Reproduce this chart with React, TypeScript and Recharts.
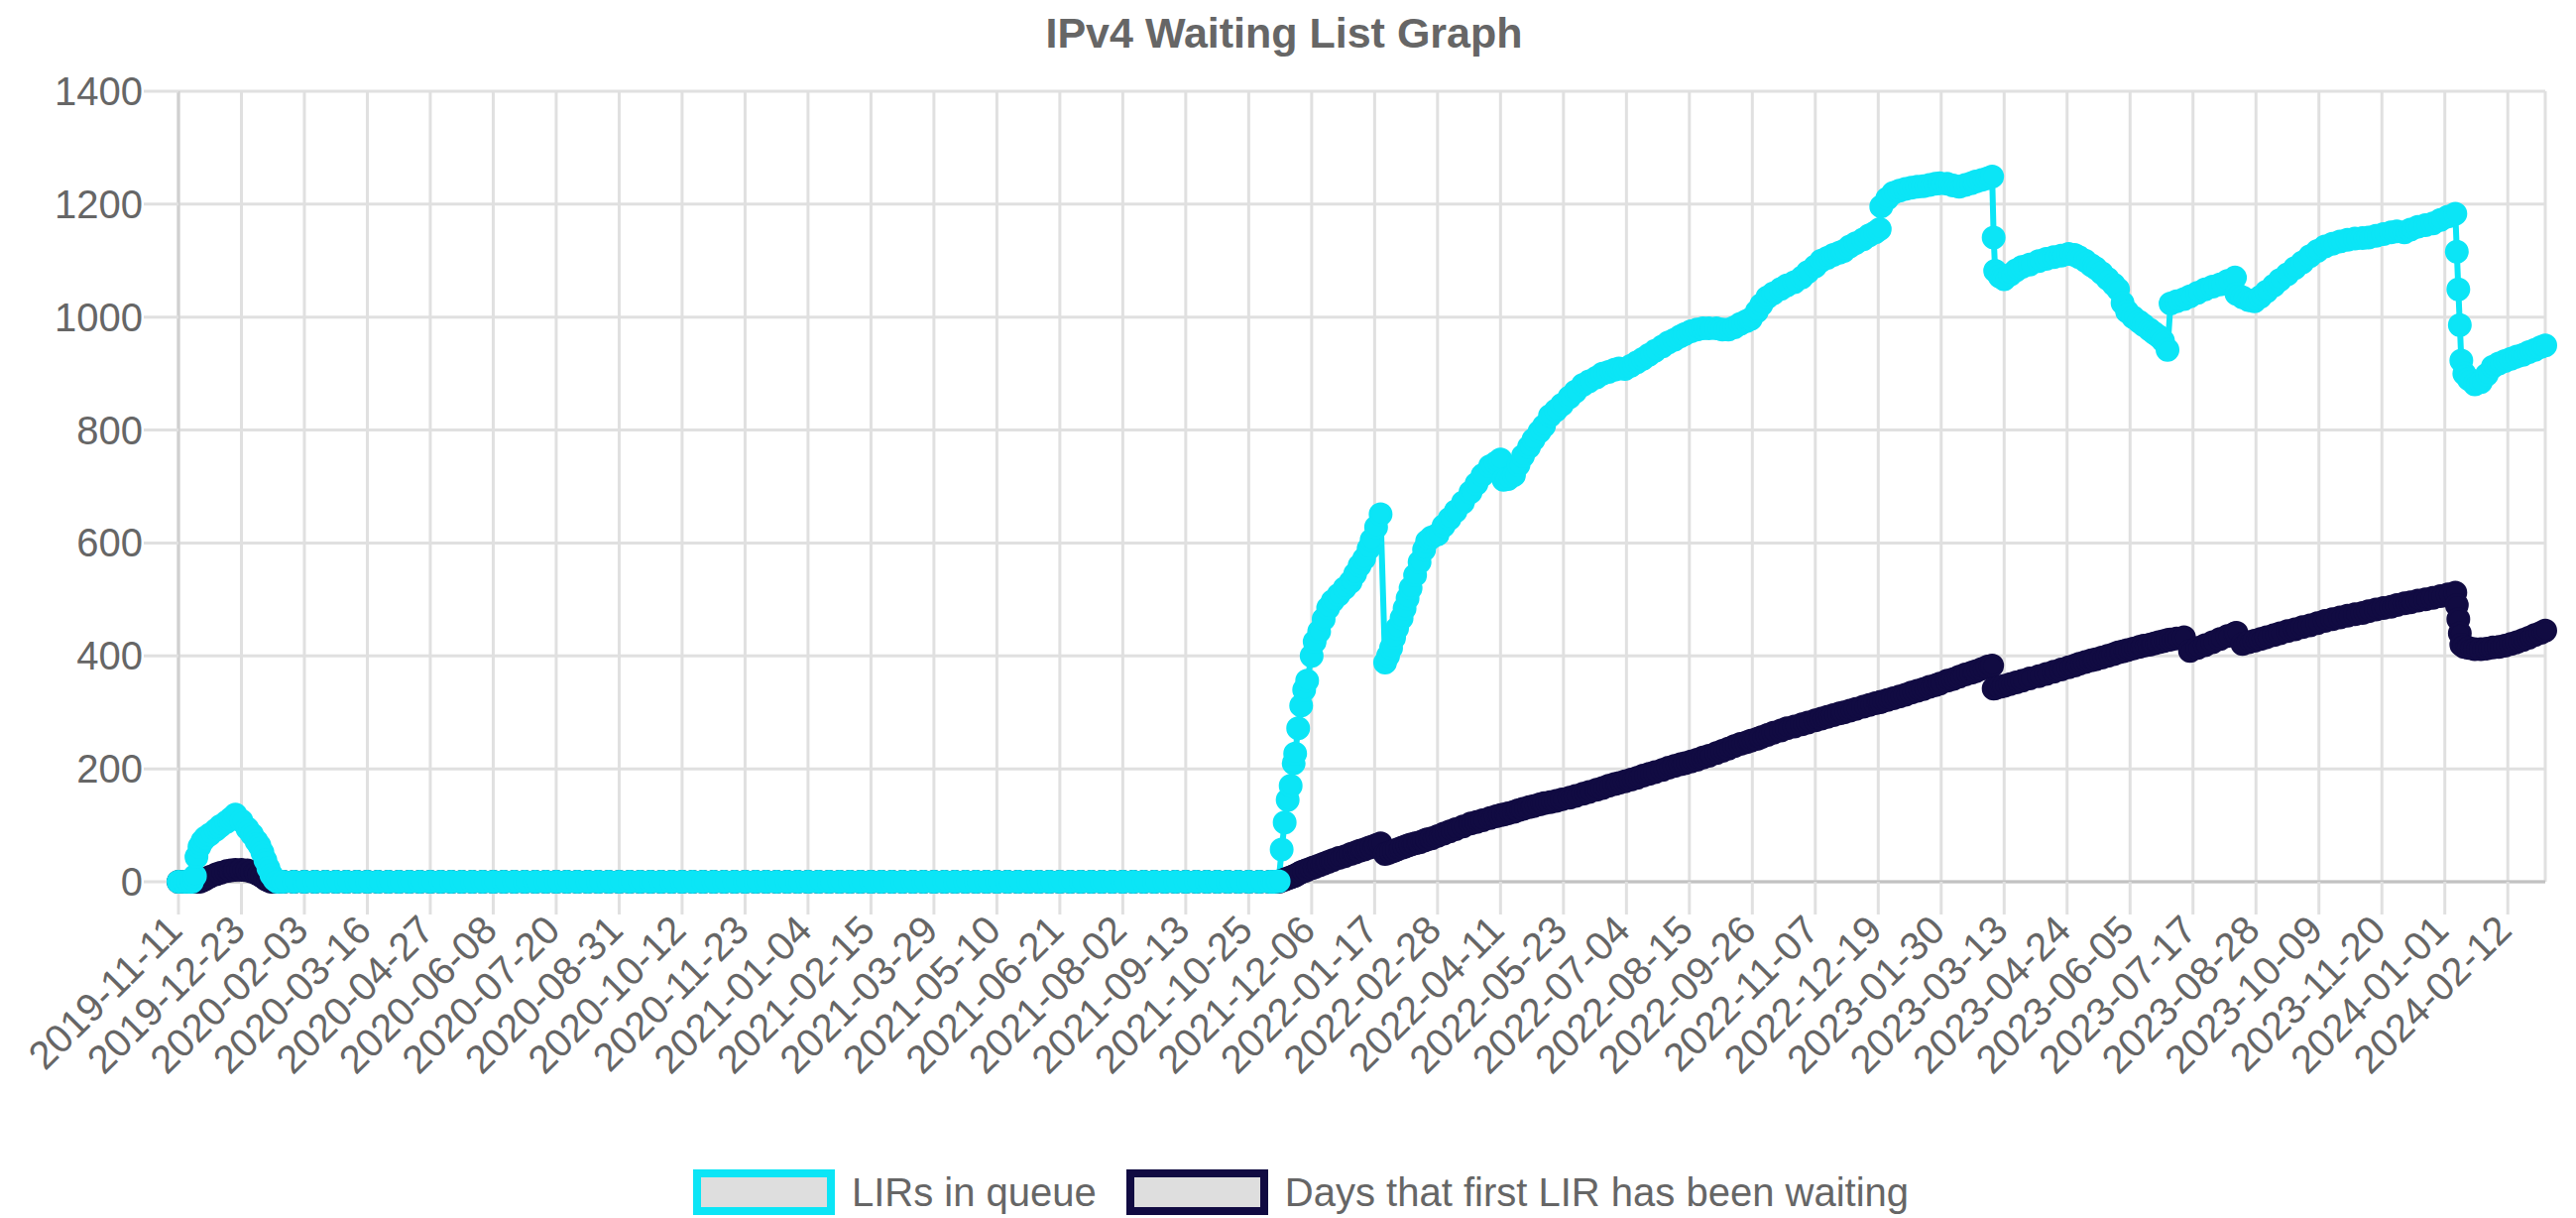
import React from 'react';
import { LineChart, Line, XAxis, YAxis, CartesianGrid } from 'recharts';

// x values are days since 2019-11-11 (first date on the axis)
const START = '2019-11-11';

const tickLabels = [
  '2019-11-11', '2019-12-23', '2020-02-03', '2020-03-16', '2020-04-27', '2020-06-08', '2020-07-20',
  '2020-08-31', '2020-10-12', '2020-11-23', '2021-01-04', '2021-02-15', '2021-03-29', '2021-05-10',
  '2021-06-21', '2021-08-02', '2021-09-13', '2021-10-25', '2021-12-06', '2022-01-17', '2022-02-28',
  '2022-04-11', '2022-05-23', '2022-07-04', '2022-08-15', '2022-09-26', '2022-11-07', '2022-12-19',
  '2023-01-30', '2023-03-13', '2023-04-24', '2023-06-05', '2023-07-17', '2023-08-28', '2023-10-09',
  '2023-11-20', '2024-01-01', '2024-02-12',
];
const yTicks = [0, 200, 400, 600, 800, 1000, 1200, 1400];
const seriesNames = ['LIRs in queue', 'Days that first LIR has been waiting'];

// first queue, end of 2019
const bumpDays = [0, 4, 7, 9, 11, 12, 14, 16, 18, 21, 25, 28, 32, 35, 38, 42, 46, 49, 52, 54, 56, 58, 60, 62, 64, 66, 70];
const bumpLirs = [0, 0, 0, 0, 10, 44, 62, 72, 78, 84, 92, 99, 106, 112, 119, 108, 94, 84, 72, 64, 52, 38, 24, 12, 4, 0, 0];
const bumpWait = [0, 0, 0, 0, 0, 0, 0, 2, 5, 9, 13, 16, 19, 20, 21, 21, 20, 18, 15, 12, 9, 5, 2, 0, 0, 0, 0];

// empty queue 2020 - 2021
const idleDays = [
  77, 84, 91, 98, 105, 112, 119, 126, 133, 140,
  147, 154, 161, 168, 175, 182, 189, 196, 203, 210,
  217, 224, 231, 238, 245, 252, 259, 266, 273, 280,
  287, 294, 301, 308, 315, 322, 329, 336, 343, 350,
  357, 364, 371, 378, 385, 392, 399, 406, 413, 420,
  427, 434, 441, 448, 455, 462, 469, 476, 483, 490,
  497, 504, 511, 518, 525, 532, 539, 546, 553, 560,
  567, 574, 581, 588, 595, 602, 609, 616, 623, 630,
  637, 644, 651, 658, 665, 672, 679, 686, 693, 700,
  707, 714, 721, 728, 731,
];
const idleLirs = [
  0, 0, 0, 0, 0, 0, 0, 0, 0, 0,
  0, 0, 0, 0, 0, 0, 0, 0, 0, 0,
  0, 0, 0, 0, 0, 0, 0, 0, 0, 0,
  0, 0, 0, 0, 0, 0, 0, 0, 0, 0,
  0, 0, 0, 0, 0, 0, 0, 0, 0, 0,
  0, 0, 0, 0, 0, 0, 0, 0, 0, 0,
  0, 0, 0, 0, 0, 0, 0, 0, 0, 0,
  0, 0, 0, 0, 0, 0, 0, 0, 0, 0,
  0, 0, 0, 0, 0, 0, 0, 0, 0, 0,
  0, 0, 0, 0, 0,
];
const idleWait = [
  0, 0, 0, 0, 0, 0, 0, 0, 0, 0,
  0, 0, 0, 0, 0, 0, 0, 0, 0, 0,
  0, 0, 0, 0, 0, 0, 0, 0, 0, 0,
  0, 0, 0, 0, 0, 0, 0, 0, 0, 0,
  0, 0, 0, 0, 0, 0, 0, 0, 0, 0,
  0, 0, 0, 0, 0, 0, 0, 0, 0, 0,
  0, 0, 0, 0, 0, 0, 0, 0, 0, 0,
  0, 0, 0, 0, 0, 0, 0, 0, 0, 0,
  0, 0, 0, 0, 0, 0, 0, 0, 0, 0,
  0, 0, 0, 0, 0,
];

// queue from Nov 2021 on
const mainDays = [
  734, 736, 738, 740, 742, 744, 745, 747, 749, 751,
  753, 756, 758, 761, 764, 767, 770, 774, 778, 782,
  785, 788, 791, 794, 796, 799, 802, 805, 807, 809,
  811, 813, 816, 818, 820, 822, 825, 828, 831, 833,
  836, 840, 844, 848, 852, 857, 862, 866, 870, 875,
  879, 882, 884, 887, 891, 894, 897, 901, 904, 908,
  911, 915, 919, 923, 928, 932, 937, 941, 946, 950,
  954, 958, 961, 965, 969, 973, 977, 981, 985, 990,
  994, 998, 1002, 1005, 1009, 1013, 1017, 1021, 1026, 1030,
  1034, 1038, 1042, 1046, 1049, 1053, 1056, 1060, 1064, 1069,
  1073, 1078, 1083, 1087, 1092, 1096, 1100, 1104, 1108, 1111,
  1115, 1119, 1124, 1128, 1132, 1135, 1136, 1140, 1144, 1148,
  1152, 1156, 1160, 1164, 1168, 1172, 1175, 1180, 1184, 1188,
  1192, 1196, 1199, 1203, 1207, 1210, 1211, 1212, 1215, 1218,
  1222, 1226, 1230, 1235, 1241, 1246, 1251, 1256, 1261, 1265,
  1268, 1272, 1276, 1279, 1283, 1287, 1291, 1294, 1297, 1300,
  1304, 1308, 1311, 1315, 1318, 1321, 1324, 1327, 1329, 1333,
  1338, 1342, 1347, 1352, 1357, 1362, 1367, 1372, 1373, 1377,
  1381, 1385, 1389, 1393, 1398, 1402, 1407, 1412, 1417, 1422,
  1427, 1432, 1437, 1442, 1447, 1452, 1457, 1461, 1466, 1471,
  1476, 1480, 1485, 1489, 1494, 1499, 1504, 1509, 1514, 1519,
  1520, 1521, 1522, 1523, 1525, 1528, 1532, 1536, 1540, 1544,
  1548, 1552, 1556, 1560, 1564, 1568, 1572, 1576, 1579,
];
const mainLirs = [
  1, 57, 105, 145, 170, 210, 227, 272, 312, 340,
  356, 400, 425, 443, 465, 485, 497, 508, 520, 531,
  545, 560, 572, 590, 605, 628, 651, 388, 400, 414,
  432, 449, 467, 484, 502, 520, 543, 566, 588, 603,
  610, 615, 630, 643, 656, 672, 690, 705, 720, 736,
  742, 748, 712, 713, 720, 738, 754, 770, 783, 797,
  807, 825, 835, 845, 858, 868, 880, 886, 893, 900,
  903, 907, 909, 908, 914, 920, 926, 933, 940, 948,
  955, 960, 966, 970, 975, 978, 980, 980, 980, 978,
  978, 982, 988, 993, 997, 1010, 1022, 1035, 1042, 1050,
  1056, 1062, 1070, 1080, 1090, 1100, 1105, 1110, 1114, 1117,
  1125, 1131, 1138, 1145, 1150, 1156, 1196, 1210, 1220, 1224,
  1227, 1229, 1231, 1232, 1234, 1236, 1237, 1236, 1233, 1231,
  1234, 1237, 1240, 1243, 1246, 1249, 1141, 1082, 1072, 1067,
  1075, 1083, 1089, 1093, 1099, 1103, 1106, 1109, 1112, 1110,
  1106, 1100, 1092, 1087, 1078, 1068, 1058, 1049, 1025, 1010,
  1000, 992, 986, 978, 972, 966, 958, 942, 1024, 1028,
  1032, 1037, 1043, 1049, 1054, 1058, 1064, 1070, 1041, 1035,
  1030, 1028, 1036, 1045, 1056, 1066, 1076, 1087, 1097, 1108,
  1117, 1125, 1130, 1134, 1137, 1139, 1140, 1141, 1144, 1147,
  1150, 1152, 1150, 1155, 1160, 1163, 1166, 1172, 1178, 1183,
  1116, 1049, 986, 923, 900, 890, 881, 885, 898, 912,
  918, 922, 926, 930, 933, 938, 942, 947, 950,
];
const mainWait = [
  0, 2, 4, 6, 8, 10, 11, 14, 17, 19,
  21, 24, 26, 29, 32, 35, 38, 42, 45, 49,
  52, 55, 57, 60, 62, 65, 68, 49, 51, 53,
  55, 57, 60, 62, 64, 66, 68, 70, 73, 75,
  77, 81, 85, 89, 93, 98, 103, 106, 109, 113,
  116, 118, 119, 121, 124, 127, 129, 132, 134, 137,
  139, 141, 143, 146, 149, 152, 156, 159, 163, 166,
  170, 173, 175, 178, 181, 184, 188, 191, 194, 198,
  202, 205, 208, 210, 213, 216, 220, 223, 228, 232,
  236, 240, 244, 247, 250, 253, 256, 260, 264, 268,
  272, 275, 279, 282, 286, 289, 292, 295, 298, 300,
  303, 306, 310, 313, 316, 318, 319, 322, 325, 328,
  331, 335, 338, 341, 345, 348, 351, 356, 359, 363,
  367, 370, 373, 377, 381, 383, 342, 343, 345, 347,
  350, 353, 356, 360, 364, 368, 372, 376, 380, 383,
  386, 389, 392, 394, 397, 400, 403, 406, 408, 410,
  413, 416, 418, 420, 422, 424, 426, 428, 429, 431,
  433, 409, 414, 419, 424, 430, 435, 440, 441, 421,
  424, 427, 430, 433, 437, 440, 444, 447, 451, 454,
  458, 462, 465, 468, 471, 474, 476, 479, 482, 485,
  487, 490, 493, 495, 498, 500, 503, 506, 509, 512,
  490, 465, 440, 420, 416, 414, 412, 412, 413, 415,
  416, 418, 421, 424, 428, 432, 437, 441, 445,
];

const CYAN = '#0be5f6';
const NAVY = '#110b42';
const GRID = '#e0e0e0';
const TEXT = '#666666';
const FONT = '"Liberation Sans", Arial, Helvetica, sans-serif';

const dayOf = (s: string) => (Date.parse(s) - Date.parse(START)) / 86400000;
const tickDays = tickLabels.map(dayOf);

const sampleDays = [...bumpDays, ...idleDays, ...mainDays];
const lirsInQueue = [...bumpLirs, ...idleLirs, ...mainLirs];
const daysWaiting = [...bumpWait, ...idleWait, ...mainWait];

const data = sampleDays.map((t, i) => ({ t, lirs: lirsInQueue[i], waiting: daysWaiting[i] }));

const XTick = (props: any) => {
  const { x, payload } = props;
  const idx = tickDays.indexOf(payload.value);
  const ax = x + 6;
  const ay = 940;
  return (
    <text x={ax} y={ay} textAnchor="end" transform={`rotate(-45 ${ax} ${ay})`}
      fill={TEXT} fontSize={40} fontFamily={FONT}>
      {idx >= 0 ? tickLabels[idx] : ''}
    </text>
  );
};

const YTick = (props: any) => {
  const { y, payload } = props;
  return (
    <text x={144} y={y + 14} textAnchor="end" fill={TEXT} fontSize={40} fontFamily={FONT}>
      {payload.value}
    </text>
  );
};

const App: React.FC = () => {
  const colors = [CYAN, NAVY];
  return (
    <div style={{ position: 'absolute', left: 0, top: 0, width: 2598, height: 1228, background: '#fff', overflow: 'hidden', fontFamily: FONT }}>
      <div style={{ position: 'absolute', left: 0, top: 12, width: 2590, textAlign: 'center', fontSize: 43, lineHeight: '43px', fontWeight: 'bold', color: TEXT }}>
        IPv4 Waiting List Graph
      </div>

      <LineChart width={2598} height={1228} data={data} margin={{ top: 92, right: 31, bottom: 0, left: 0 }}>
        <CartesianGrid stroke={GRID} strokeWidth={3} />
        <XAxis dataKey="t" type="number" domain={['dataMin', 'dataMax']} ticks={tickDays} interval={0}
          height={339} tickSize={33} tickLine={{ stroke: GRID, strokeWidth: 3 }}
          axisLine={{ stroke: '#c2c2c2', strokeWidth: 3 }} tick={<XTick />} />
        <YAxis type="number" domain={[0, 1400]} ticks={yTicks} interval={0} width={180}
          tickSize={35} tickLine={{ stroke: GRID, strokeWidth: 3 }}
          axisLine={{ stroke: '#d0d0d0', strokeWidth: 3 }} tick={<YTick />} />
        <Line type="linear" dataKey="waiting" stroke={NAVY} strokeWidth={6}
          dot={{ r: 10.5, fill: NAVY, stroke: NAVY, strokeWidth: 3 }} activeDot={false} isAnimationActive={false} />
        <Line type="linear" dataKey="lirs" stroke={CYAN} strokeWidth={6}
          dot={{ r: 10.5, fill: CYAN, stroke: CYAN, strokeWidth: 3 }} activeDot={false} isAnimationActive={false} />
      </LineChart>

      {/* legend */}
      <div style={{ position: 'absolute', left: 699, top: 1179, display: 'flex', alignItems: 'center' }}>
        {seriesNames.map((name, i) => (
          <div key={name} style={{ display: 'flex', alignItems: 'center', marginRight: 30 }}>
            <div style={{ width: 143, height: 46, boxSizing: 'border-box', border: `8px solid ${colors[i]}`, background: '#dedede', marginRight: 17 }} />
            <span style={{ fontSize: 40, lineHeight: '40px', color: TEXT }}>{name}</span>
          </div>
        ))}
      </div>
    </div>
  );
};

export default App;
